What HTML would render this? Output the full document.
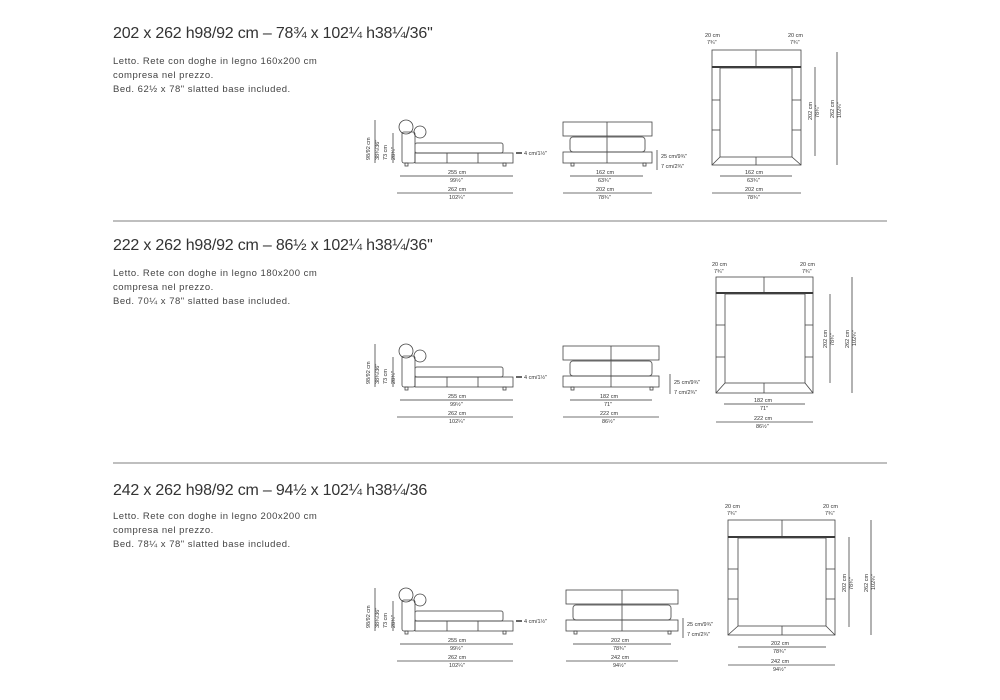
<!DOCTYPE html>
<html><head><meta charset="utf-8"><style>
body{margin:0;background:#fff;}
svg{display:block;font-family:"Liberation Sans",sans-serif;}
.t{font-size:16px;fill:#333;letter-spacing:-0.2px;}
.d{font-size:9.5px;fill:#444;letter-spacing:0.5px;}
.s{font-size:5.5px;fill:#333;}
.l{stroke:#444;stroke-width:0.8;fill:none;}
.g{stroke:#666;stroke-width:1;fill:none;}
</style></head><body>
<svg width="1000" height="700" viewBox="0 0 1000 700">
<defs>
<g id="side">
 <line class="l" x1="375" y1="120" x2="375" y2="163"/>
 <line class="l" x1="393" y1="133" x2="393" y2="163"/>
 <text class="s" transform="translate(370,160) rotate(-90)">98/92 cm</text>
 <text class="s" transform="translate(379,160) rotate(-90)">38¾/36"</text>
 <text class="s" transform="translate(387,160) rotate(-90)">73 cm</text>
 <text class="s" transform="translate(395,160) rotate(-90)">28¾"</text>
 <circle class="l" cx="406" cy="127" r="7"/>
 <circle class="l" cx="420" cy="132" r="6"/>
 <rect class="l" x="402" y="132" width="13" height="31" rx="2"/>
 <rect class="g" x="415" y="143" width="88" height="10" rx="2"/>
 <rect class="l" x="415" y="153" width="98" height="10"/>
 <line class="l" x1="447" y1="153" x2="447" y2="163"/>
 <line class="l" x1="478" y1="153" x2="478" y2="163"/>
 <rect class="l" x="405" y="163" width="3" height="3"/>
 <rect class="l" x="503" y="163" width="3" height="3"/>
 <line x1="516" y1="153" x2="522" y2="153" stroke="#333" stroke-width="1.5"/>
 <text class="s" x="524" y="155">4 cm/1½"</text>
 <line class="g" x1="400" y1="176" x2="513" y2="176"/>
 <text class="s" x="448" y="174">255 cm</text><text class="s" x="450" y="182">99½"</text>
 <line class="l" x1="397" y1="193" x2="513" y2="193"/>
 <text class="s" x="448" y="191">262 cm</text><text class="s" x="449" y="199">102¼"</text>
</g>
<g id="vlab">
 <text class="s" x="0" y="0">20 cm</text><text class="s" x="2" y="7">7¾"</text>
</g>
</defs>

<!-- Section 1 -->
<text class="t" x="113" y="38">202 x 262 h98/92 cm – 78¾ x 102¼ h38¼/36''</text>
<text class="d" x="113" y="64">Letto. Rete con doghe in legno 160x200 cm</text>
<text class="d" x="113" y="78">compresa nel prezzo.</text>
<text class="d" x="113" y="92">Bed. 62½ x 78" slatted base included.</text>
<use href="#side"/>
<g>
 <rect class="l" x="563" y="122" width="89" height="14"/>
 <line class="l" x1="607" y1="122" x2="607" y2="163"/>
 <rect class="g" x="570" y="137" width="75" height="15" rx="3"/>
 <rect class="l" x="563" y="152" width="89" height="11"/>
 <rect class="l" x="571" y="163" width="3" height="3"/><rect class="l" x="643" y="163" width="3" height="3"/>
 <line class="l" x1="657" y1="150" x2="657" y2="170"/>
 <text class="s" x="661" y="158">25 cm/9¾"</text><text class="s" x="661" y="168">7 cm/2¾"</text>
 <line class="g" x1="570" y1="176" x2="643" y2="176"/>
 <text class="s" x="596" y="174">162 cm</text><text class="s" x="598" y="182">63¾"</text>
 <line class="l" x1="563" y1="193" x2="652" y2="193"/>
 <text class="s" x="596" y="191">202 cm</text><text class="s" x="598" y="199">78¾"</text>
</g>
<g>
 <use href="#vlab" x="705" y="37"/><use href="#vlab" x="788" y="37"/>
 <rect class="l" x="712" y="50" width="89" height="17"/>
 <line class="l" x1="756" y1="50" x2="756" y2="67"/>
 <line x1="712" y1="67" x2="801" y2="67" stroke="#333" stroke-width="2"/>
 <rect class="l" x="712" y="67" width="89" height="98"/>
 <rect class="l" x="720" y="68" width="72" height="89"/>
 <line class="l" x1="712" y1="165" x2="720" y2="157"/><line class="l" x1="801" y1="165" x2="792" y2="157"/>
 <line class="l" x1="756" y1="157" x2="756" y2="165"/>
 <line class="l" x1="712" y1="100" x2="720" y2="100"/><line class="l" x1="712" y1="130" x2="720" y2="130"/>
 <line class="l" x1="792" y1="100" x2="801" y2="100"/><line class="l" x1="792" y1="130" x2="801" y2="130"/>
 <line class="l" x1="815" y1="67" x2="815" y2="156"/>
 <line class="g" x1="837" y1="52" x2="837" y2="165"/>
 <text class="s" transform="translate(812,120) rotate(-90)">202 cm</text>
 <text class="s" transform="translate(819,118) rotate(-90)">78¾"</text>
 <text class="s" transform="translate(834,118) rotate(-90)">262 cm</text>
 <text class="s" transform="translate(841,118) rotate(-90)">102¼"</text>
 <line class="g" x1="720" y1="176" x2="792" y2="176"/>
 <text class="s" x="745" y="174">162 cm</text><text class="s" x="747" y="182">63¾"</text>
 <line class="l" x1="712" y1="193" x2="801" y2="193"/>
 <text class="s" x="745" y="191">202 cm</text><text class="s" x="747" y="199">78¾"</text>
</g>
<line x1="113" y1="221" x2="887" y2="221" stroke="#555" stroke-width="0.8"/>

<!-- Section 2 -->
<text class="t" x="113" y="250">222 x 262 h98/92 cm – 86½ x 102¼ h38¼/36''</text>
<text class="d" x="113" y="276">Letto. Rete con doghe in legno 180x200 cm</text>
<text class="d" x="113" y="290">compresa nel prezzo.</text>
<text class="d" x="113" y="304">Bed. 70¼ x 78" slatted base included.</text>
<use href="#side" y="224"/>
<g transform="translate(0,224)">
 <rect class="l" x="563" y="122" width="96" height="14"/>
 <line class="l" x1="611" y1="122" x2="611" y2="163"/>
 <rect class="g" x="570" y="137" width="82" height="15" rx="3"/>
 <rect class="l" x="563" y="152" width="96" height="11"/>
 <rect class="l" x="571" y="163" width="3" height="3"/><rect class="l" x="650" y="163" width="3" height="3"/>
 <line class="l" x1="670" y1="150" x2="670" y2="170"/>
 <text class="s" x="674" y="160">25 cm/9¾"</text><text class="s" x="674" y="170">7 cm/2¾"</text>
 <line class="g" x1="570" y1="176" x2="652" y2="176"/>
 <text class="s" x="600" y="174">182 cm</text><text class="s" x="604" y="182">71"</text>
 <line class="l" x1="563" y1="193" x2="659" y2="193"/>
 <text class="s" x="600" y="191">222 cm</text><text class="s" x="602" y="199">86½"</text>
</g>
<g>
 <use href="#vlab" x="712" y="266"/><use href="#vlab" x="800" y="266"/>
 <rect class="l" x="716" y="277" width="97" height="16"/>
 <line class="l" x1="764" y1="277" x2="764" y2="293"/>
 <line x1="716" y1="293" x2="813" y2="293" stroke="#333" stroke-width="2"/>
 <rect class="l" x="716" y="293" width="97" height="100"/>
 <rect class="l" x="725" y="294" width="80" height="89"/>
 <line class="l" x1="716" y1="393" x2="725" y2="383"/><line class="l" x1="813" y1="393" x2="805" y2="383"/>
 <line class="l" x1="764" y1="383" x2="764" y2="393"/>
 <line class="l" x1="716" y1="325" x2="725" y2="325"/><line class="l" x1="716" y1="357" x2="725" y2="357"/>
 <line class="l" x1="805" y1="325" x2="813" y2="325"/><line class="l" x1="805" y1="357" x2="813" y2="357"/>
 <line class="l" x1="830" y1="294" x2="830" y2="383"/>
 <line class="g" x1="852" y1="277" x2="852" y2="393"/>
 <text class="s" transform="translate(827,348) rotate(-90)">202 cm</text>
 <text class="s" transform="translate(834,346) rotate(-90)">78¾"</text>
 <text class="s" transform="translate(849,348) rotate(-90)">262 cm</text>
 <text class="s" transform="translate(856,346) rotate(-90)">102¼"</text>
 <line class="g" x1="724" y1="404" x2="805" y2="404"/>
 <text class="s" x="754" y="402">182 cm</text><text class="s" x="760" y="410">71"</text>
 <line class="l" x1="716" y1="422" x2="813" y2="422"/>
 <text class="s" x="754" y="420">222 cm</text><text class="s" x="756" y="428">86½"</text>
</g>
<line x1="113" y1="463" x2="887" y2="463" stroke="#555" stroke-width="0.8"/>

<!-- Section 3 -->
<text class="t" x="113" y="495">242 x 262 h98/92 cm – 94½ x 102¼ h38¼/36</text>
<text class="d" x="113" y="519">Letto. Rete con doghe in legno 200x200 cm</text>
<text class="d" x="113" y="533">compresa nel prezzo.</text>
<text class="d" x="113" y="547">Bed. 78¼ x 78" slatted base included.</text>
<use href="#side" y="468"/>
<g transform="translate(0,468)">
 <rect class="l" x="566" y="122" width="112" height="14"/>
 <line class="l" x1="622" y1="122" x2="622" y2="163"/>
 <rect class="g" x="573" y="137" width="98" height="15" rx="3"/>
 <rect class="l" x="566" y="152" width="112" height="11"/>
 <rect class="l" x="574" y="163" width="3" height="3"/><rect class="l" x="668" y="163" width="3" height="3"/>
 <line class="l" x1="683" y1="150" x2="683" y2="170"/>
 <text class="s" x="687" y="158">25 cm/9¾"</text><text class="s" x="687" y="168">7 cm/2¾"</text>
 <line class="g" x1="573" y1="176" x2="671" y2="176"/>
 <text class="s" x="611" y="174">202 cm</text><text class="s" x="613" y="182">78¾"</text>
 <line class="l" x1="566" y1="193" x2="678" y2="193"/>
 <text class="s" x="611" y="191">242 cm</text><text class="s" x="613" y="199">94½"</text>
</g>
<g>
 <use href="#vlab" x="725" y="508"/><use href="#vlab" x="823" y="508"/>
 <rect class="l" x="728" y="520" width="107" height="17"/>
 <line class="l" x1="782" y1="520" x2="782" y2="537"/>
 <line x1="728" y1="537" x2="835" y2="537" stroke="#333" stroke-width="2"/>
 <rect class="l" x="728" y="537" width="107" height="98"/>
 <rect class="l" x="738" y="538" width="88" height="88"/>
 <line class="l" x1="728" y1="635" x2="738" y2="626"/><line class="l" x1="835" y1="635" x2="826" y2="626"/>
 <line class="l" x1="782" y1="626" x2="782" y2="635"/>
 <line class="l" x1="728" y1="569" x2="738" y2="569"/><line class="l" x1="728" y1="599" x2="738" y2="599"/>
 <line class="l" x1="826" y1="569" x2="835" y2="569"/><line class="l" x1="826" y1="599" x2="835" y2="599"/>
 <line class="l" x1="849" y1="537" x2="849" y2="627"/>
 <line class="g" x1="871" y1="520" x2="871" y2="635"/>
 <text class="s" transform="translate(846,592) rotate(-90)">202 cm</text>
 <text class="s" transform="translate(853,590) rotate(-90)">78¾"</text>
 <text class="s" transform="translate(868,592) rotate(-90)">262 cm</text>
 <text class="s" transform="translate(875,590) rotate(-90)">102¼"</text>
 <line class="g" x1="738" y1="647" x2="826" y2="647"/>
 <text class="s" x="771" y="645">202 cm</text><text class="s" x="773" y="653">78¾"</text>
 <line class="l" x1="728" y1="665" x2="835" y2="665"/>
 <text class="s" x="771" y="663">242 cm</text><text class="s" x="773" y="671">94½"</text>
</g>
</svg>
</body></html>
